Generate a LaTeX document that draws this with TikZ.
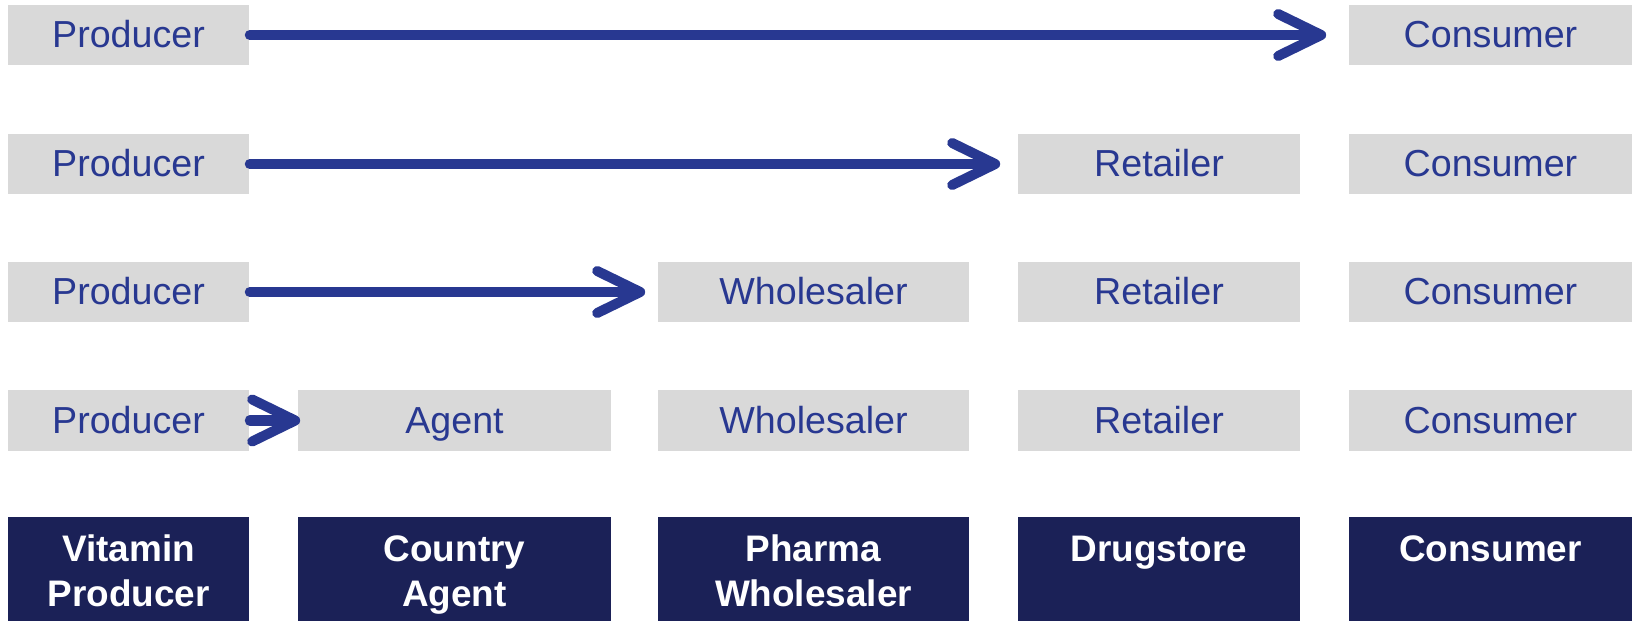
\documentclass[tikz,border=0pt]{standalone}
\usepackage{fontspec}
\setmainfont{Liberation Sans}
\usetikzlibrary{arrows.meta}
\definecolor{chanblue}{HTML}{283891}
\definecolor{chandark}{HTML}{1B2157}
\definecolor{changrey}{HTML}{D9D9D9}
\tikzset{
  member/.style={fill=changrey, text=chanblue, inner sep=0pt, minimum height=0.6cm,
    text height=0.72em, text depth=0pt, font=\fontsize{10.7}{13}\selectfont},
  level/.style={fill=chandark, text=white, inner sep=0pt, minimum height=1.16cm,
    align=center, font=\fontsize{10.5}{12.8}\selectfont\bfseries},
  flow/.style={draw=chanblue, line width=0.1cm, line cap=round,
    -{Straight Barb[length=0.43cm, width=0.42cm, line cap=round, line join=round]}}
}
\begin{document}
\begin{tikzpicture}[x=0.01cm, y=-0.01cm]
  \useasboundingbox (0,0) rectangle (1632,621);
  % direct
  \node[member, minimum width=2.41cm] (prodA) at (128.5,35) {Producer};
  \node[member, minimum width=2.83cm] (consA) at (1490.5,35) {Consumer};
  % via retailer
  \node[member, minimum width=2.41cm] (prodB) at (128.5,164) {Producer};
  \node[member, minimum width=2.82cm] (retB) at (1159,164) {Retailer};
  \node[member, minimum width=2.83cm] (consB) at (1490.5,164) {Consumer};
  % via wholesaler
  \node[member, minimum width=2.41cm] (prodC) at (128.5,292) {Producer};
  \node[member, minimum width=3.11cm] (wholC) at (813.5,292) {Wholesaler};
  \node[member, minimum width=2.82cm] (retC) at (1159,292) {Retailer};
  \node[member, minimum width=2.83cm] (consC) at (1490.5,292) {Consumer};
  % via agent
  \node[member, minimum width=2.41cm] (prodD) at (128.5,420.5) {Producer};
  \node[member, minimum width=3.13cm] (agentD) at (454.5,420.5) {Agent};
  \node[member, minimum width=3.11cm] (wholD) at (813.5,420.5) {Wholesaler};
  \node[member, minimum width=2.82cm] (retD) at (1159,420.5) {Retailer};
  \node[member, minimum width=2.83cm] (consD) at (1490.5,420.5) {Consumer};
  % example chain
  \node[level, minimum width=2.41cm] (vitamin) at (128.5,575) {Vitamin\strut\\Producer\strut};
  \node[level, minimum width=3.13cm] (country) at (454.5,575) {Country\strut\\Agent\strut};
  \node[level, minimum width=3.11cm] (pharma) at (813.5,575) {Pharma\strut\\Wholesaler\strut};
  \node[level, minimum width=2.82cm] (drug) at (1159,575) {Drugstore\strut\\\strut};
  \node[level, minimum width=2.83cm] (buyer) at (1490.5,575) {Consumer\strut\\\strut};

  \draw[flow, shorten >=0.22cm] (prodA) -- (consA);
  \draw[flow, shorten >=0.17cm] (prodB) -- (retB);
  \draw[flow, shorten >=0.12cm] (prodC) -- (wholC);
  \draw[flow, shorten >=-0.03cm] (prodD) -- (agentD);
\end{tikzpicture}
\end{document}
